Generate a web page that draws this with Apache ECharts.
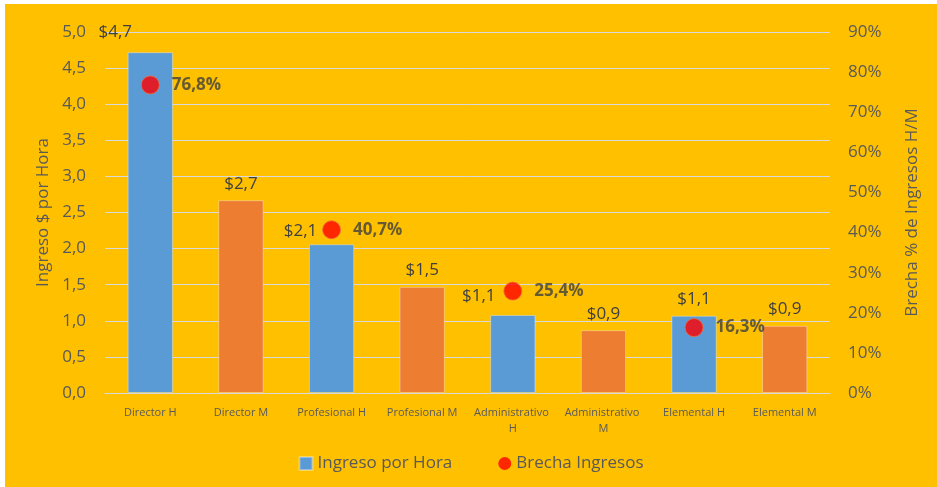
<!DOCTYPE html>
<html>
<head>
<meta charset="utf-8">
<script src="https://cdn.jsdelivr.net/npm/echarts@6/dist/echarts.min.js"></script>
<style>
  html, body { margin: 0; padding: 0; background: #fff; }
  #chart { position: absolute; left: 5px; top: 4px; width: 932px; height: 483px; }
</style>
</head>
<body>
<div id="chart"></div>
<script>
  'use strict'

  var categories = ['Director H', 'Director M', 'Profesional H', 'Profesional M',
                    'Administrativo H', 'Administrativo M', 'Elemental H', 'Elemental M']
  var ingresoPorHora = [4.72, 2.67, 2.06, 1.47, 1.08, 0.87, 1.07, 0.93]
  var brechaIngresos = [76.8, null, 40.7, null, 25.4, null, 16.3, null]
  var leftTicks = { min: 0, max: 5, interval: 0.5 }
  var rightTicks = { min: 0, max: 90, interval: 10 }

  var COLORS = {
    bg: '#FFC000',
    hombre: '#5B9BD5',
    mujer: '#ED7D31',
    punto: '#FF0000',
    text: '#595959',
    label: '#404040',
    grid: '#D9D9D9'
  }
  var FONT = 'Open Sans, Noto Sans, sans-serif'

  // etiquetas de las barras H se corren a la izquierda para no tapar el punto
  var labelShift = { 0: [-35, -4], 2: [-31, 3], 4: [-34, -2] }

  function comma(v, d) { return v.toFixed(d).replace('.', ',') }

  var barData = ingresoPorHora.map(function (v, i) {
    var item = { value: v }
    if (i % 2 === 1) item.itemStyle = { color: COLORS.mujer }
    if (labelShift[i]) item.label = { offset: labelShift[i] }
    return item
  })
  var scatterData = brechaIngresos.map(function (v) { return v == null ? '-' : v })

  var chart = echarts.init(document.getElementById('chart'))
  chart.setOption({
    backgroundColor: COLORS.bg,
    textStyle: { fontFamily: FONT },
    grid: { left: 100, right: 107, top: 28, bottom: 94 },
    legend: {
      bottom: 10,
      left: 'center',
      itemGap: 46,
      itemWidth: 13,
      itemHeight: 13,
      textStyle: { color: COLORS.text, fontSize: 17, fontFamily: FONT },
      data: [
        { name: 'Ingreso por Hora', icon: 'rect' },
        { name: 'Brecha Ingresos', icon: 'circle', itemStyle: { color: COLORS.punto, borderWidth: 0 } }
      ]
    },
    xAxis: {
      type: 'category',
      data: categories,
      axisLine: { lineStyle: { color: COLORS.grid } },
      axisTick: { show: false },
      axisLabel: {
        color: COLORS.text, fontSize: 11, interval: 0, margin: 12,
        width: 80, overflow: 'break', lineHeight: 16
      }
    },
    yAxis: [
      {
        type: 'value',
        min: leftTicks.min, max: leftTicks.max, interval: leftTicks.interval,
        name: 'Ingreso $ por Hora',
        nameLocation: 'middle',
        nameGap: 53,
        nameTextStyle: { color: COLORS.text, fontSize: 17 },
        axisLabel: {
          color: COLORS.text, fontSize: 17, margin: 19,
          formatter: function (v) { return comma(v, 1) }
        },
        splitLine: { lineStyle: { color: COLORS.grid, width: 1 } },
        axisLine: { show: false },
        axisTick: { show: false }
      },
      {
        type: 'value',
        min: rightTicks.min, max: rightTicks.max, interval: rightTicks.interval,
        name: 'Brecha % de Ingresos H/M',
        nameLocation: 'middle',
        nameGap: 74,
        nameRotate: 90,
        nameTextStyle: { color: COLORS.text, fontSize: 17 },
        axisLabel: {
          color: COLORS.text, fontSize: 17, margin: 18,
          formatter: function (v) { return v + '%' }
        },
        splitLine: { show: false },
        axisLine: { show: false },
        axisTick: { show: false }
      }
    ],
    series: [
      {
        name: 'Ingreso por Hora',
        type: 'bar',
        yAxisIndex: 0,
        barWidth: '50%',
        color: COLORS.hombre,
        itemStyle: { borderColor: 'rgba(255,255,255,0.35)', borderWidth: 1 },
        label: {
          show: true,
          position: 'top',
          distance: 8,
          color: COLORS.label,
          fontSize: 17,
          formatter: function (p) { return '$' + comma(p.value, 1) }
        },
        data: barData
      },
      {
        name: 'Brecha Ingresos',
        type: 'scatter',
        yAxisIndex: 1,
        symbolSize: 18,
        itemStyle: { color: COLORS.punto, borderColor: '#F06A3A', borderWidth: 1 },
        label: {
          show: true,
          position: 'right',
          distance: 12,
          color: COLORS.label,
          fontSize: 17,
          fontWeight: 'bold',
          formatter: function (p) { return comma(p.value, 1) + '%' }
        },
        data: scatterData
      }
    ]
  })
</script>
</body>
</html>
